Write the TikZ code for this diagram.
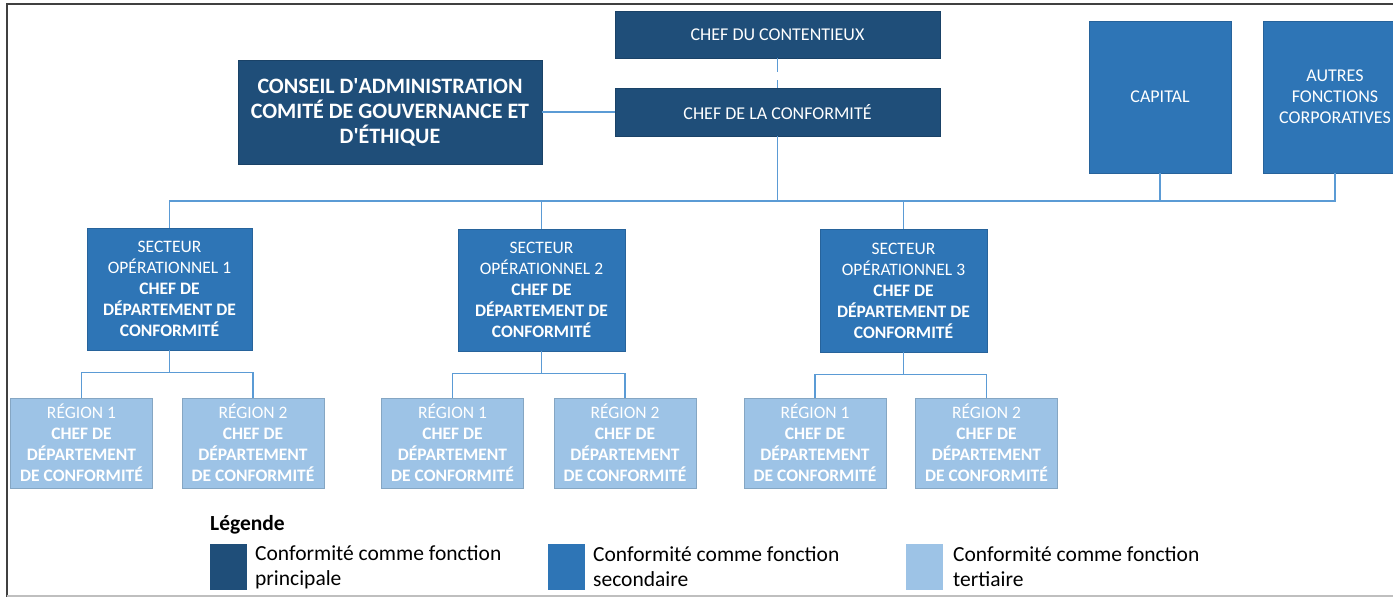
\documentclass[tikz,border=0pt]{standalone}
\usepackage{fontspec}
\setmainfont{Carlito}
\definecolor{cdark}{HTML}{1F4E79}
\definecolor{cmed}{HTML}{2E75B6}
\definecolor{clight}{HTML}{9DC3E6}
\definecolor{cline}{HTML}{5B9BD5}
\begin{document}
\begin{tikzpicture}[x=1pt,y=-1pt,
  box/.style={draw=#1!85!black, line width=0.6pt, fill=#1, text=white, align=center, inner sep=0pt},
  conn/.style={draw=cline, line width=1.6pt},
  small/.style={font=\fontsize{18}{21}\selectfont},
  mid/.style={font=\fontsize{17.5}{21}\selectfont},
  big/.style={font=\fontsize{22}{25}\selectfont\bfseries},
  leg/.style={font=\fontsize{21.5}{25}\selectfont, align=left, anchor=west, inner sep=0pt, text=black}]
\useasboundingbox (0,0) rectangle (1393,597);
\fill[white] (0,0) rectangle (1393,597);
% top row
\node[box=cdark, small, minimum width=325, minimum height=47] (cont) at (777.5,34.5) {CHEF DU CONTENTIEUX};
\node[box=cdark, small, minimum width=325, minimum height=48] (conf) at (777.5,112) {CHEF DE LA CONFORMITÉ};
\node[box=cdark, big, minimum width=304, minimum height=104] (cons) at (390,112) {CONSEIL D\textquotesingle ADMINISTRATION\\COMITÉ DE GOUVERNANCE ET\\D\textquotesingle ÉTHIQUE};
\node[box=cmed, small, minimum width=142, minimum height=152] (cap) at (1160,97) {CAPITAL};
\node[box=cmed, small, minimum width=144, minimum height=152] (aut) at (1335,97) {AUTRES\\FONCTIONS\\CORPORATIVES};
% sectors
\node[box=cmed, mid, minimum width=165, minimum height=122] (s1) at (169.5,289) {SECTEUR\\OPÉRATIONNEL 1\\\textbf{CHEF DE}\\\textbf{DÉPARTEMENT DE}\\\textbf{CONFORMITÉ}};
\node[box=cmed, mid, minimum width=167, minimum height=122] (s2) at (541.5,290) {SECTEUR\\OPÉRATIONNEL 2\\\textbf{CHEF DE}\\\textbf{DÉPARTEMENT DE}\\\textbf{CONFORMITÉ}};
\node[box=cmed, mid, minimum width=167, minimum height=123] (s3) at (903.5,290.5) {SECTEUR\\OPÉRATIONNEL 3\\\textbf{CHEF DE}\\\textbf{DÉPARTEMENT DE}\\\textbf{CONFORMITÉ}};
% regions
\foreach \n/\x/\k in {r11/81.5/1, r12/253/2, r21/452.5/1, r22/625/2, r31/815/1, r32/986.5/2}{
  \node[box=clight, mid, minimum width=142, minimum height=90] (\n) at (\x,443) {RÉGION \k\\\textbf{CHEF DE}\\\textbf{DÉPARTEMENT}\\\textbf{DE CONFORMITÉ}};
}
% connectors
\coordinate (bus) at (170,201);
\draw[conn] (cons.east) -- (conf.west);
\draw[conn, dash pattern=on 14pt off 8pt] (cont.south) -- (conf.north);
\draw[conn] (conf.south) -- (conf.south |- bus);
\draw[conn] (s1.north) -- (s1.north |- bus) -- (bus -| aut.south) -- (aut.south);
\draw[conn] (s2.north) -- (s2.north |- bus);
\draw[conn] (s3.north) -- (s3.north |- bus);
\draw[conn] (cap.south) -- (cap.south |- bus);
\foreach \s/\a/\b in {s1/r11/r12, s2/r21/r22, s3/r31/r32}{
  \draw[conn] (\s.south) -- ++(0,22) coordinate (m\s);
  \draw[conn] (\a.north) |- (m\s) -| (\b.north);
}
% legend
\node[anchor=west, inner sep=0pt, font=\fontsize{21.5}{25}\selectfont\bfseries] (legt) at (210,525) {Légende};
\node[fill=cdark, minimum width=37, minimum height=46, inner sep=0pt] (ld) at (228.5,567) {};
\node[fill=cmed, minimum width=37, minimum height=46, inner sep=0pt] (lm) at (566.5,567) {};
\node[fill=clight, minimum width=37, minimum height=46, inner sep=0pt] (ll) at (924.5,567) {};
\node[leg] (ldt) at (255,567) {Conformité comme fonction\\principale};
\node[leg] (lmt) at (593,567) {Conformité comme fonction\\secondaire};
\node[leg] (llt) at (953,567) {Conformité comme fonction\\tertiaire};
% frame
\draw[black!75, line width=1.5pt] (7,597) -- (7,4) -- (1393,4);
\draw[black!25, line width=2pt] (7,595.5) -- (1393,595.5);
\end{tikzpicture}
\end{document}
